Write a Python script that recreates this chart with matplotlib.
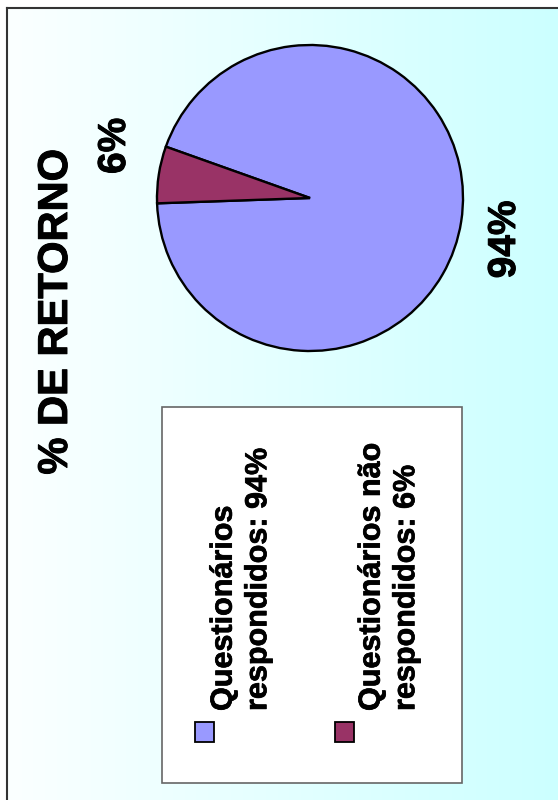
import matplotlib
matplotlib.use("Agg")
import matplotlib.pyplot as plt
import matplotlib.patheffects as pe
import numpy as np
from matplotlib.patches import Rectangle

# Data
categories = ["Questionários\nrespondidos: 94%", "Questionários não\nrespondidos: 6%"]
values = [94, 6]
pct_labels = ["94%", "6%"]
colors = ["#9999FF", "#993366"]
title = "% DE RETORNO"

plt.rcParams['font.family'] = ['Liberation Sans', 'DejaVu Sans']
plt.rcParams['font.weight'] = 'bold'

W, H = 558, 800
fig = plt.figure(figsize=(W / 100, H / 100), dpi=100, facecolor="white")

def fx(px):
    return px / W

def fy(py):
    return 1 - py / H

heavy = [pe.withStroke(linewidth=0.7, foreground='black')]

# Background gradient frame
bg = fig.add_axes([fx(7), 0, 1 - fx(7), fy(8)])
grad = np.linspace(0, 1, 256)[None, :]
c0 = np.array([0.985, 1.0, 1.0])
c1 = np.array([0.80, 1.0, 1.0])
img = c0[None, None, :] * (1 - grad[..., None]) + c1[None, None, :] * grad[..., None]
bg.imshow(img, aspect='auto', extent=[0, 1, 0, 1])
bg.set_xlim(0, 1)
bg.set_ylim(0, 1)
bg.set_xticks([])
bg.set_yticks([])
for s in ['right', 'bottom']:
    bg.spines[s].set_visible(False)
for s in ['left', 'top']:
    bg.spines[s].set_color('#333333')
    bg.spines[s].set_linewidth(1.5)

# Pie
cx, cy, r = 310, 198, 153
ax = fig.add_axes([fx(cx - r), fy(cy + r), (2 * r) / W, (2 * r) / H])
ax.set_facecolor('none')
wedges, texts = ax.pie(values, colors=colors, startangle=182, counterclock=True,
                       labels=pct_labels, labeldistance=1.31,
                       wedgeprops=dict(edgecolor='black', linewidth=1.7),
                       textprops=dict(fontsize=28, fontweight='bold', rotation=90))
for t in texts:
    t.set_ha('center')
    t.set_va('center')
    t.set_path_effects(heavy)
# small refinement of label placement
texts[0].set_position((texts[0].get_position()[0] - 0.02, texts[0].get_position()[1] - 0.07))
texts[1].set_position((texts[1].get_position()[0] + 0.02, texts[1].get_position()[1] + 0.14))
ax.set_xlim(-1, 1)
ax.set_ylim(-1, 1)
ax.set_aspect('equal')
ax.axis('off')

# Title
fig.text(fx(56), fy(312), title, rotation=90, ha='center', va='center',
         fontsize=30, fontweight='bold', color='black', path_effects=heavy)

# Legend box
fig.patches.append(Rectangle((fx(162), fy(783)), fx(462) - fx(162), fy(407) - fy(783),
                             transform=fig.transFigure, facecolor='white',
                             edgecolor='#666666', linewidth=1.2, zorder=5))
marker_x = [195, 335]
text_x = [241, 389]
for i, (lab, col) in enumerate(zip(categories, colors)):
    fig.patches.append(Rectangle((fx(marker_x[i]), fy(742)), 19 / W, 20 / H,
                                 transform=fig.transFigure, facecolor=col,
                                 edgecolor='black', linewidth=1.3, zorder=6))
    fig.text(fx(text_x[i]), fy(711), lab, rotation=90, rotation_mode='anchor',
             ha='left', va='center', fontsize=22, fontweight='bold',
             linespacing=1.2, zorder=7,
             path_effects=[pe.withStroke(linewidth=0.5, foreground='black')])

fig.savefig("out.png", dpi=100, facecolor="white")
